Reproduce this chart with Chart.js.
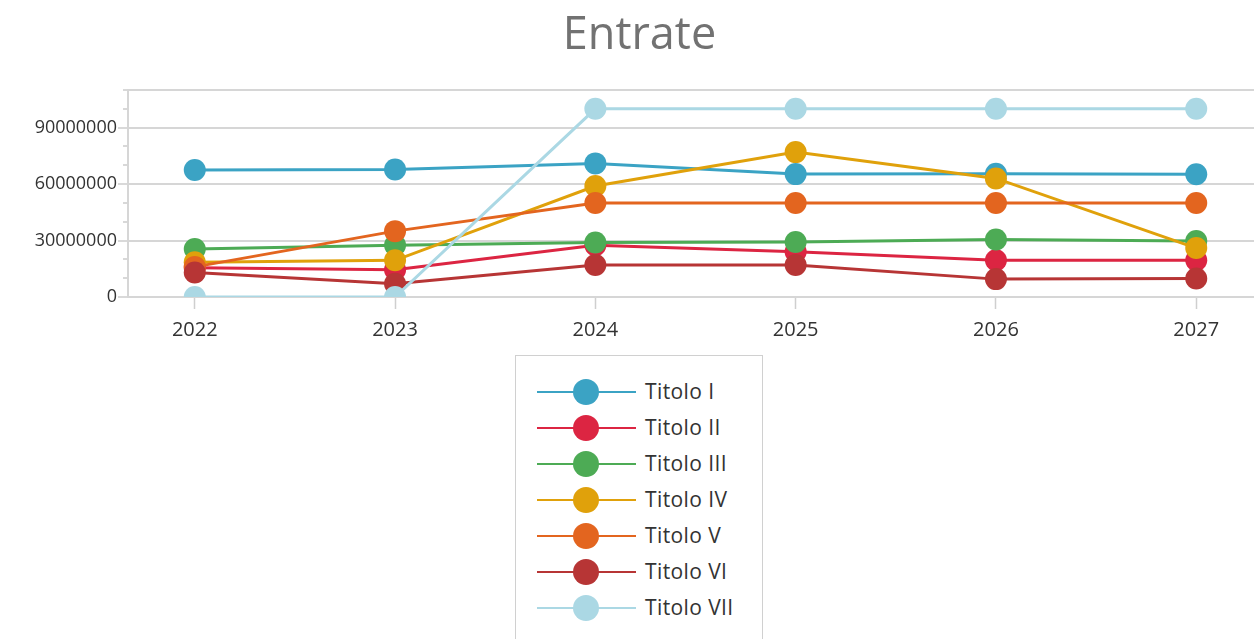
<!DOCTYPE html>
<html>
<head>
<meta charset="utf-8">
<script src="https://cdn.jsdelivr.net/npm/chart.js@4/dist/chart.umd.min.js"></script>
<style>
  html, body { margin: 0; padding: 0; background: #fff; overflow: hidden; width: 1254px; height: 639px; }
  #wrap { position: absolute; left: 0; top: 0; width: 1279px; height: 357px; }
  #legend { position: absolute; left: 515px; top: 355px; width: 248px; height: 300px; box-sizing: border-box;
            border: 1px solid #d0d0d0; background: #fff; font-family: "Open Sans", sans-serif; }
  .row { position: absolute; left: 0; height: 36px; width: 100%; }
  .ln { position: absolute; left: 21px; top: 17px; width: 99px; height: 2px; }
  .dot { position: absolute; left: 57px; top: 5px; width: 26px; height: 26px; border-radius: 50%; }
  .lbl { position: absolute; left: 129px; top: 3px; font-size: 21px; letter-spacing: 0.4px; line-height: 28px; color: #333; white-space: nowrap; }
</style>
</head>
<body>
<div id="wrap"><canvas id="c"></canvas></div>
<div id="legend"></div>
<script>
const categories = ['2022', '2023', '2024', '2025', '2026', '2027'];
const seriesNames = ['Titolo I', 'Titolo II', 'Titolo III', 'Titolo IV', 'Titolo V', 'Titolo VI', 'Titolo VII'];
const titoloI   = [67500000, 67800000, 71000000, 65300000, 65500000, 65200000];
const titoloII  = [15500000, 14500000, 27500000, 24000000, 19500000, 19500000];
const titoloIII = [25500000, 27500000, 29000000, 29200000, 30600000, 29800000];
const titoloIV  = [18500000, 19500000, 59000000, 77000000, 63000000, 26000000];
const titoloV   = [16000000, 35000000, 50000000, 50000000, 50000000, 50000000];
const titoloVI  = [13000000, 7000000, 17000000, 17000000, 9500000, 9800000];
const titoloVII = [0, 0, 100000000, 100000000, 100000000, 100000000];
const yTickLabels = [0, 30000000, 60000000, 90000000];

const seriesValues = [titoloI, titoloII, titoloIII, titoloIV, titoloV, titoloVI, titoloVII];
const colors = ['#3ba3c4', '#dc2542', '#4dab55', '#e0a10b', '#e3651f', '#b73535', '#abd8e4'];

const datasets = seriesNames.map((name, i) => ({
  label: name,
  data: categories.map((c, j) => ({ x: Number(c), y: seriesValues[i][j] })),
  borderColor: colors[i],
  backgroundColor: colors[i],
  pointBackgroundColor: colors[i],
  pointBorderColor: colors[i],
  pointBorderWidth: 0,
  pointRadius: 11,
  pointHoverRadius: 11,
  borderWidth: 3,
  tension: 0,
  clip: 0,
  order: seriesNames.length - i
}));

const MAJOR = 30000000;
new Chart(document.getElementById('c'), {
  type: 'line',
  data: { datasets },
  options: {
    responsive: true,
    maintainAspectRatio: false,
    animation: false,
    events: [],
    layout: { padding: { left: 16, right: 16, top: 0, bottom: 6 } },
    plugins: {
      legend: { display: false },
      tooltip: { enabled: false },
      title: {
        display: true,
        text: 'Entrate',
        color: '#727272',
        font: { family: 'Open Sans', size: 45, weight: 'normal', lineHeight: 1.2 },
        padding: { top: 9, bottom: 27 }
      }
    },
    scales: {
      x: {
        type: 'linear',
        min: Number(categories[0]) - 1/3,
        max: Number(categories[categories.length - 1]) + 1/3,
        afterBuildTicks: s => { s.ticks = categories.map(c => ({ value: Number(c) })); },
        ticks: {
          callback: v => String(v),
          color: '#333',
          font: { family: 'Open Sans', size: 20 },
          padding: 9,
          autoSkip: false,
          maxRotation: 0
        },
        grid: { drawOnChartArea: false, drawTicks: true, tickLength: 12, tickColor: '#cfcfcf', tickWidth: 1.5 },
        border: { display: true, color: '#d6d6d6', width: 2 }
      },
      y: {
        min: 0,
        max: 110000000,
        afterFit: s => { s.width = 112; },
        ticks: {
          stepSize: 10000000,
          autoSkip: false,
          callback: v => (yTickLabels.includes(v) ? String(v) : ''),
          color: '#333',
          font: { family: 'Open Sans', size: 18 },
          padding: 1
        },
        grid: {
          color: ctx => (ctx.tick && (ctx.tick.value % MAJOR === 0 || ctx.tick.value === 110000000)) ? '#d6d6d6' : 'transparent',
          lineWidth: 2,
          tickLength: 10,
          tickColor: '#cccccc',
          tickWidth: 1.5,
          tickBorderDash: ctx => (ctx.tick && ctx.tick.value % MAJOR === 0) ? [] : [0, 5, 10, 0]
        },
        border: { display: true, color: '#d6d6d6', width: 2 }
      }
    }
  }
});

const legend = document.getElementById('legend');
seriesNames.forEach((name, i) => {
  const row = document.createElement('div');
  row.className = 'row';
  row.style.top = (18 + i * 36) + 'px';
  row.innerHTML = '<div class="ln" style="background:' + colors[i] + '"></div>' +
                  '<div class="dot" style="background:' + colors[i] + '"></div>' +
                  '<div class="lbl"></div>';
  row.querySelector('.lbl').textContent = name;
  legend.appendChild(row);
});
</script>
</body>
</html>
